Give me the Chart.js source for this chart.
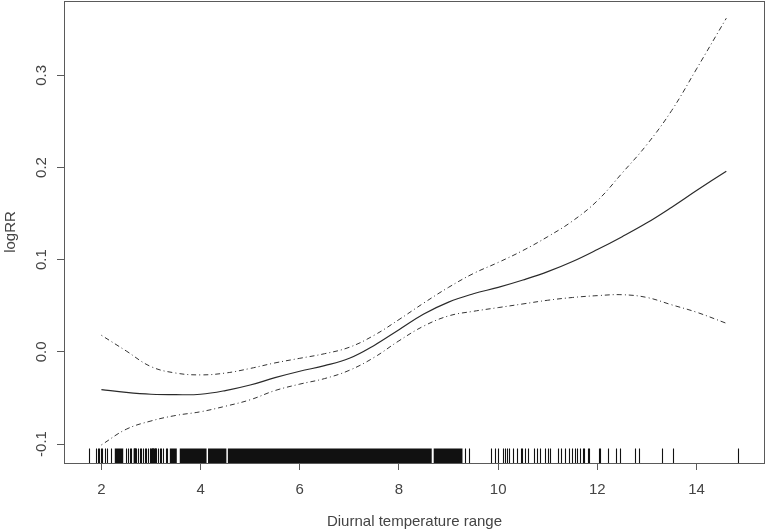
<!DOCTYPE html>
<html>
<head>
<meta charset="utf-8">
<script src="https://cdn.jsdelivr.net/npm/chart.js@4/dist/chart.umd.min.js"></script>
<style>
  html, body { margin: 0; padding: 0; background: #fff; }
</style>
</head>
<body>
<canvas id="c" width="766" height="532"></canvas>
<script>
// values
const dtr = [2.0, 2.5, 3.0, 3.5, 4.0, 4.5, 5.0, 5.5, 6.0, 6.5, 7.0, 7.5, 8.0, 8.5, 9.0, 9.5, 10.0, 10.5, 11.0, 11.5, 12.0, 12.5, 13.0, 13.5, 14.0, 14.6];
const logRR = [-0.041, -0.044, -0.046, -0.0465, -0.046, -0.042, -0.036, -0.028, -0.021, -0.015, -0.007, 0.007, 0.024, 0.041, 0.054, 0.063, 0.070, 0.078, 0.087, 0.098, 0.111, 0.125, 0.140, 0.157, 0.175, 0.196];
const upperCI = [0.018, 0.001, -0.016, -0.023, -0.025, -0.023, -0.018, -0.012, -0.007, -0.002, 0.005, 0.018, 0.035, 0.053, 0.070, 0.085, 0.097, 0.110, 0.125, 0.142, 0.164, 0.194, 0.225, 0.262, 0.307, 0.362];
const lowerCI = [-0.101, -0.084, -0.075, -0.069, -0.065, -0.059, -0.052, -0.042, -0.035, -0.029, -0.020, -0.006, 0.012, 0.028, 0.039, 0.044, 0.048, 0.052, 0.056, 0.059, 0.061, 0.062, 0.059, 0.051, 0.043, 0.031];

const xTicks = [2, 4, 6, 8, 10, 12, 14];
const yTicks = [-0.1, 0.0, 0.1, 0.2, 0.3];
const yTickLabels = ['-0.1', '0.0', '0.1', '0.2', '0.3'];

// rug: single observations and stretches that print as solid black
const rugLines = [1.75, 1.90, 1.93, 1.96, 1.99, 2.02, 2.08, 2.12, 2.20,
  2.50, 2.54, 2.57, 2.60, 2.65, 2.68, 2.70, 2.74, 2.77, 2.80, 2.84, 2.87, 2.89, 2.94,
  2.99, 3.02, 3.05, 3.08, 3.11, 3.14, 3.18, 3.21, 3.24, 3.30, 3.32,
  9.34, 9.41, 9.86, 9.93, 10.00, 10.10, 10.13, 10.18, 10.22, 10.30, 10.38, 10.46, 10.49,
  10.55, 10.60, 10.72, 10.78, 10.84, 10.95, 11.00, 11.05, 11.20, 11.27, 11.35, 11.43,
  11.48, 11.54, 11.59, 11.64, 11.71, 11.74, 11.81, 11.83, 12.03, 12.05, 12.21, 12.37,
  12.45, 12.76, 12.84, 13.30, 13.52, 14.83];
const rugBands = [[2.27, 2.44], [2.65, 2.70], [2.99, 3.11], [3.38, 3.52], [3.58, 4.12], [4.15, 4.52], [4.55, 8.66], [8.70, 9.28]];

const FONT = '"Liberation Sans", Arial, sans-serif';
const INK = '#444';
const AXIS = '#5a5a5a';

const toPoints = ys => dtr.map((x, i) => ({ x: x, y: ys[i] }));

// box, rug and rotated y labels (R style)
const rPlot = {
    id: 'rPlot',
    afterDatasetsDraw(chart) {
        const { ctx, chartArea: a, scales } = chart;
        const xs = scales.x;
        ctx.save();
        ctx.fillStyle = '#111';
        ctx.strokeStyle = '#111';
        ctx.lineWidth = 1.1;
        const top = a.bottom - 14.5;
        rugBands.forEach(b => {
            const x0 = xs.getPixelForValue(b[0]);
            const x1 = xs.getPixelForValue(b[1]);
            ctx.fillRect(x0, top, x1 - x0, a.bottom - top);
        });
        rugLines.forEach(v => {
            const px = Math.round(xs.getPixelForValue(v)) + 0.5;
            ctx.beginPath();
            ctx.moveTo(px, top);
            ctx.lineTo(px, a.bottom);
            ctx.stroke();
        });
        ctx.restore();
    },
    afterDraw(chart) {
        const { ctx, chartArea: a, scales } = chart;
        ctx.save();
        ctx.strokeStyle = AXIS;
        ctx.lineWidth = 1;
        ctx.strokeRect(a.left + 0.5, a.top + 0.5, a.right - a.left - 1, a.bottom - a.top);

        ctx.fillStyle = INK;
        ctx.font = '15px ' + FONT;
        ctx.textAlign = 'center';
        ctx.textBaseline = 'middle';
        yTicks.forEach((v, i) => {
            const py = scales.y.getPixelForValue(v);
            ctx.save();
            ctx.translate(42, py);
            ctx.rotate(-Math.PI / 2);
            ctx.fillText(yTickLabels[i], 0, 0);
            ctx.restore();
        });
        ctx.restore();
    }
};

const ciStyle = {
    borderColor: '#333',
    borderWidth: 1,
    borderDash: [1, 3, 5, 3],
    pointRadius: 0,
    tension: 0.4,
    fill: false
};

new Chart(document.getElementById('c'), {
    type: 'line',
    data: {
        datasets: [
            {
                label: 'logRR',
                data: toPoints(logRR),
                borderColor: '#2a2a2a',
                borderWidth: 1.2,
                pointRadius: 0,
                tension: 0.4,
                fill: false
            },
            Object.assign({ label: 'upper', data: toPoints(upperCI) }, ciStyle),
            Object.assign({ label: 'lower', data: toPoints(lowerCI) }, ciStyle)
        ]
    },
    options: {
        responsive: false,
        animation: false,
        layout: { padding: { top: 1, right: 1, left: 0, bottom: 0 } },
        plugins: {
            legend: { display: false },
            tooltip: { enabled: false }
        },
        scales: {
            x: {
                type: 'linear',
                min: 1.246,
                max: 15.38,
                afterBuildTicks: axis => { axis.ticks = xTicks.map(v => ({ value: v })); },
                afterFit: axis => { axis.height = 69; },
                border: { display: false },
                grid: {
                    drawOnChartArea: false,
                    drawTicks: true,
                    tickLength: 7,
                    tickColor: AXIS
                },
                ticks: {
                    color: INK,
                    font: { family: FONT, size: 15 },
                    padding: 11,
                    maxRotation: 0,
                    callback: v => String(v)
                },
                title: {
                    display: true,
                    text: 'Diurnal temperature range',
                    color: INK,
                    font: { family: FONT, size: 15 },
                    padding: { top: 0, bottom: 1 }
                }
            },
            y: {
                type: 'linear',
                min: -0.1206,
                max: 0.3807,
                afterBuildTicks: axis => { axis.ticks = yTicks.map(v => ({ value: v })); },
                afterFit: axis => { axis.width = 64; },
                border: { display: false },
                grid: {
                    drawOnChartArea: false,
                    drawTicks: true,
                    tickLength: 7,
                    tickColor: AXIS
                },
                ticks: { display: false },
                title: {
                    display: true,
                    text: 'logRR',
                    color: INK,
                    font: { family: FONT, size: 15 },
                    padding: { top: 2, bottom: 0 }
                }
            }
        }
    },
    plugins: [rPlot]
});
</script>
</body>
</html>
